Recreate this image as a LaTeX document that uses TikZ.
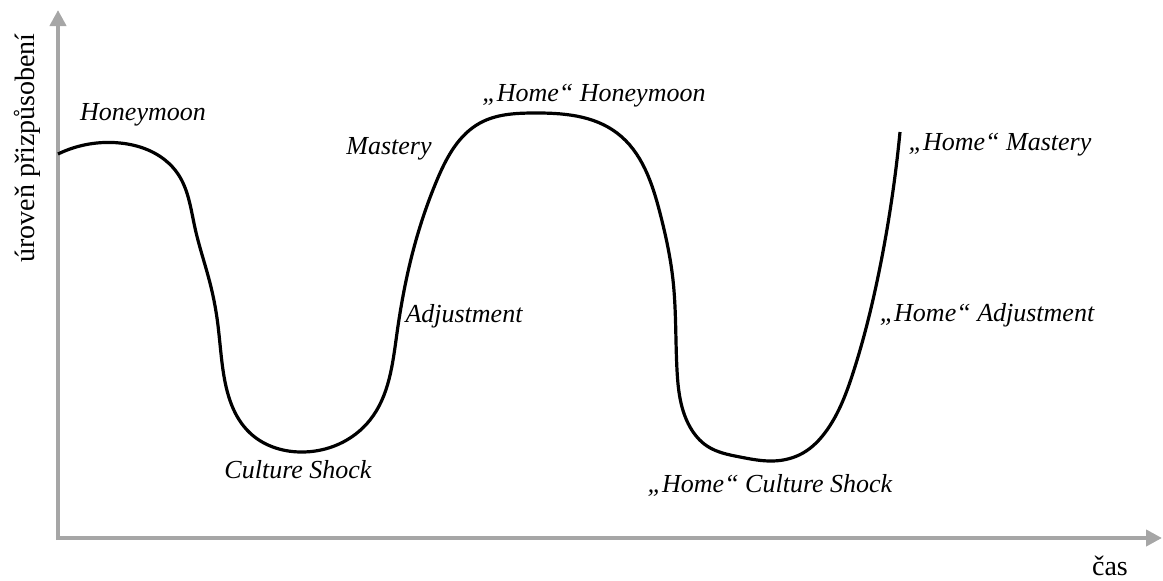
\documentclass[tikz,border=0pt]{standalone}
\usepackage{fontspec}
\setmainfont{Liberation Serif}
\usetikzlibrary{arrows.meta,hobby}
\definecolor{axisgray}{HTML}{A6A6A6}
\tikzset{
  axisline/.style={draw=axisgray, line width=4pt, -{Triangle[length=16pt,width=16pt]}},
  phase/.style={font=\fontsize{26}{30}\selectfont\itshape, inner sep=0pt},
  axislabel/.style={font=\fontsize{28}{32}\selectfont, inner sep=0pt},
  curve/.style={line width=3.2pt, line join=round}
}
\begin{document}
\begin{tikzpicture}[x=1pt,y=-1pt]
\useasboundingbox (0,0) rectangle (1163,581);
\coordinate (ytip) at (58,10);
\coordinate (xtip) at (1162,538);
\coordinate (yfoot) at (58,540);
\coordinate (xfoot) at (56,538);
\draw[axisline] (yfoot) -- (ytip);
\draw[axisline] (xfoot) -- (xtip);
\node[axislabel, rotate=90] (ylab) at (27,148) {úroveň přizpůsobení};
\node[axislabel] (xlab) at (1110,566) {čas};
\draw[curve, use Hobby shortcut] (58,154) .. (120,143) .. (165,160) .. (178,174) .. (195,228)
 .. (210,283) .. (217,318) .. (223,370) .. (250,433) .. (300,452) .. (370,420) .. (397,333) .. (412,255) .. (437,180)
 .. (480,123) .. (533,113) .. (617,133) .. (660,213) .. (673,280) .. (677,370) .. (690,427)
 .. (707,446) .. (740,457) .. (773,461) .. (803,453) .. (827,430) .. (853,373) .. (880,267) .. (900,132);
\node[phase] (honey) at (143,115) {Honeymoon};
\node[phase] (shock) at (298,470) {Culture Shock};
\node[phase] (adj) at (464,316) {Adjustment};
\node[phase] (mast) at (389,149) {Mastery};
\node[phase] (hhoney) at (594,96) {„Home“ Honeymoon};
\node[phase] (hshock) at (770,485) {„Home“ Culture Shock};
\node[phase] (hadj) at (987,315) {„Home“ Adjustment};
\node[phase] (hmast) at (1000,145) {„Home“ Mastery};
\end{tikzpicture}
\end{document}
